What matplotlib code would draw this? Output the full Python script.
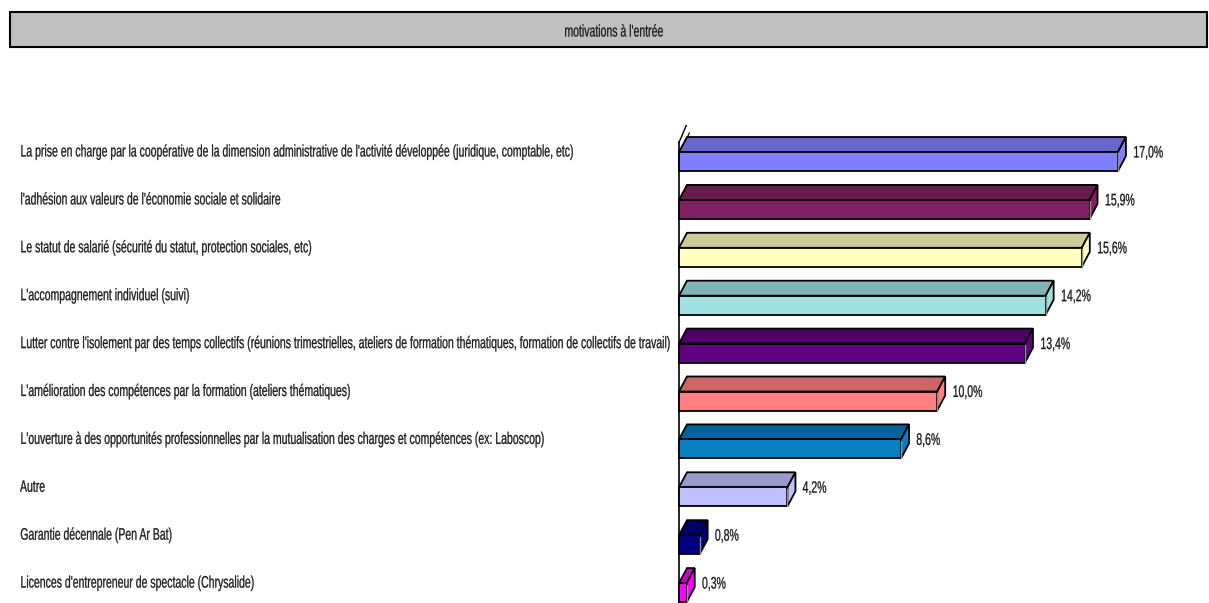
import matplotlib
matplotlib.use("Agg")
import matplotlib.pyplot as plt
import matplotlib.transforms as mtransforms
from matplotlib import patheffects
from matplotlib.patches import Polygon, Rectangle
from matplotlib.text import Text

# Motivations at entry, share of answers (%)
labels = [
    "La prise en charge par la coopérative de la dimension administrative de l'activité développée (juridique, comptable, etc)",
    "l'adhésion aux valeurs de l'économie sociale et solidaire",
    "Le statut de salarié (sécurité du statut, protection sociales, etc)",
    "L'accompagnement individuel (suivi)",
    "Lutter contre l'isolement par des temps collectifs (réunions trimestrielles, ateliers de formation thématiques, formation de collectifs de travail)",
    "L'amélioration des compétences par la formation (ateliers thématiques)",
    "L'ouverture à des opportunités professionnelles par la mutualisation des charges et compétences (ex: Laboscop)",
    "Autre",
    "Garantie décennale (Pen Ar Bat)",
    "Licences d'entrepreneur de spectacle (Chrysalide)",
]
values = [17.0, 15.9, 15.6, 14.2, 13.4, 10.0, 8.6, 4.2, 0.8, 0.3]
title = "motivations à l'entrée"

front_colors = ["#8080FF", "#802060", "#FFFFC0", "#A0E0E0", "#600080",
                "#FF8080", "#0A7EC2", "#C0C0FF", "#000080", "#FF00FF"]
top_colors = ["#6666CC", "#661A4D", "#CCCC99", "#80B3B3", "#4D0066",
              "#CC6666", "#00649A", "#9999CC", "#000066", "#CC00CC"]

SQUEEZE = 0.63


class Squeeze(patheffects.AbstractPathEffect):
    """Draw text horizontally compressed (narrow look) around its left edge or centre."""

    def __init__(self, sx, anchor="left", stroke=0.2):
        super().__init__()
        self.sx = sx
        self.anchor = anchor
        self.stroke = stroke

    def draw_path(self, renderer, gc, tpath, affine, rgbFace=None):
        ext = tpath.get_extents(affine)
        x0 = ext.x0 if self.anchor == "left" else (ext.x0 + ext.x1) / 2
        sq = mtransforms.Affine2D().translate(-x0, 0).scale(self.sx, 1).translate(x0, 0)
        gc0 = renderer.new_gc()
        gc0.copy_properties(gc)
        gc0.set_linewidth(self.stroke)
        gc0.set_foreground(rgbFace)
        renderer.draw_path(gc0, tpath, affine + sq, rgbFace)
        gc0.restore()


class NarrowText(Text):
    """Text whose reported extent follows the compressed drawing."""

    def get_window_extent(self, renderer=None, dpi=None):
        bb = super().get_window_extent(renderer, dpi)
        if self.get_horizontalalignment() == "center":
            cx = (bb.x0 + bb.x1) / 2
            half = bb.width * SQUEEZE / 2
            return mtransforms.Bbox([[cx - half, bb.y0], [cx + half, bb.y1]])
        return mtransforms.Bbox([[bb.x0, bb.y0], [bb.x0 + bb.width * SQUEEZE, bb.y1]])


font = "Liberation Sans"
fsize = 12
txt_color = "#1a1a1a"


def add_text(target, x, y, s, ha="left", transform=None):
    t = NarrowText(x, y, s, fontsize=fsize, family=font, ha=ha, va="center",
                   color=txt_color,
                   path_effects=[Squeeze(SQUEEZE, "center" if ha == "center" else "left")])
    if transform is not None:
        t.set_transform(transform)
    target.add_artist(t)
    t.set_clip_on(False)
    return t


W, H = 1209, 603
fig = plt.figure(figsize=(W / 100, H / 100), dpi=100)

# plot area: zero line at x=679 px, 25.82 px per percent, 47.9 px per row
px_per_unit = 25.82
px_per_row = 47.9
ax = fig.add_axes([679 / W, 0, (W - 679) / W, 503 / H])
ax.set_xlim(0, (W - 679) / px_per_unit)
ax.set_ylim((603 - 152) / px_per_row, (100 - 152) / px_per_row)
ax.axis("off")

dx = 8 / px_per_unit
dy = 15 / px_per_row
h = 19 / px_per_row

# axis wall line
ax.plot([0, 0], [-0.2, 9.6], color="black", lw=1.2, clip_on=False, zorder=1)
ax.plot([0, dx * 0.9], [-0.2, -0.2 - 0.35], color="black", lw=1.0, clip_on=False, zorder=1)
ax.plot([0.12, 0.12 + dx * 0.9], [-0.05, -0.05 - 0.35], color="black", lw=0.8, clip_on=False, zorder=1)

for i, (v, fc, tc) in enumerate(zip(values, front_colors, top_colors)):
    y = i
    top = Polygon([(0, y), (v, y), (v + dx, y - dy), (dx, y - dy)],
                  closed=True, facecolor=tc, edgecolor="black", lw=1.3, clip_on=False, zorder=2)
    side = Polygon([(v, y), (v, y + h), (v + dx, y + h - dy), (v + dx, y - dy)],
                   closed=True, facecolor=fc, edgecolor="black", lw=1.3, clip_on=False, zorder=2)
    front = Rectangle((0, y), v, h, facecolor=fc, edgecolor="black", lw=1.3, clip_on=False, zorder=3)
    ax.add_patch(top)
    ax.add_patch(side)
    ax.add_patch(front)
    # light edge between front and side faces
    ax.plot([v, v], [y + 0.03, y + h], color="#909090", lw=1.0, clip_on=False, zorder=4)
    add_text(ax, v + dx + 7 / px_per_unit, y + 0.02, f"{v:.1f}%".replace(".", ","))

# category labels at the left edge of the figure
trans = mtransforms.blended_transform_factory(fig.transFigure, ax.transData)
for i, lab in enumerate(labels):
    add_text(ax, 20 / W, i, lab, transform=trans)

# title banner
fig.patches.append(Rectangle((10 / W, (H - 47) / H), (1207 - 10) / W, 35 / H,
                             transform=fig.transFigure, facecolor="#C0C0C0",
                             edgecolor="black", lw=1.5))
add_text(fig, 614 / W, (H - 32) / H, title, ha="center", transform=fig.transFigure)

fig.savefig("out.png", dpi=100)
